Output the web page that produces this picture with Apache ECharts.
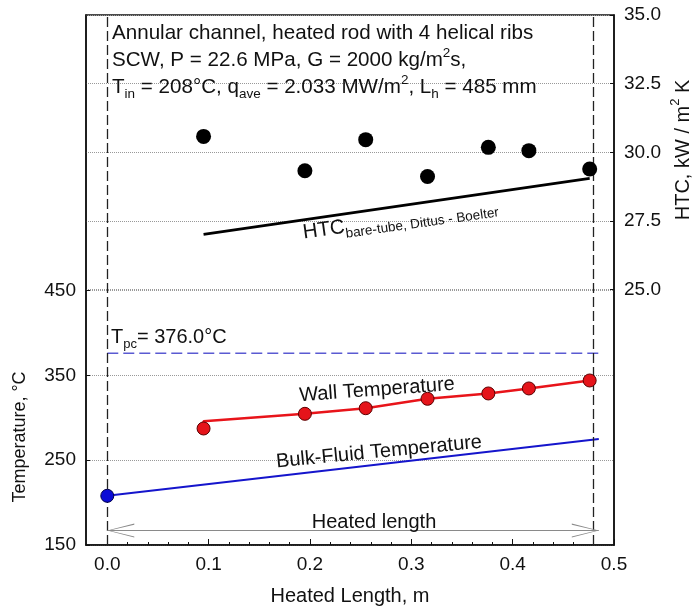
<!DOCTYPE html>
<html><head><meta charset="utf-8">
<script src="https://cdn.jsdelivr.net/npm/echarts@6/dist/echarts.min.js"></script>
<style>html,body{margin:0;padding:0;background:#fff}#c{width:698px;height:610px}</style>
</head><body><div id="c"></div>
<script>
// ---- data ----
const positions = [0.095, 0.195, 0.255, 0.316, 0.376, 0.416, 0.476];
const wallTemp = [287.4, 304.7, 311.3, 322.4, 328.7, 334.6, 344.0];
const wallLineStartTemp = 296;
const htcExp = [30.58, 29.33, 30.46, 29.12, 30.18, 30.06, 29.39];
const htcDBx = [0.095, 0.476];
const htcDB = [27.01, 29.05];
const bulkX = [0, 0.485];
const bulkT = [208, 275];
const inletX = [0];
const inletT = [208];
const tpcValue = 376.0;
const heatedLength = [0, 0.485];
const arrowLevel = 167;
const xTicks = [0, 0.1, 0.2, 0.3, 0.4, 0.5];
const xMinorTicks = [0.02,0.04,0.06,0.08,0.12,0.14,0.16,0.18,0.22,0.24,0.26,0.28,0.32,0.34,0.36,0.38,0.42,0.44,0.46,0.48];
const tempTicks = [150, 250, 350, 450];
const htcTicks = [25, 27.5, 30, 32.5, 35];

// ---- build ----
const FONT = '"Liberation Sans", Arial, sans-serif';
const wallLine = [[positions[0], wallTemp[0]], [positions[0], wallLineStartTemp]]
  .concat(positions.slice(1).map((x, i) => [x, wallTemp[i + 1]]));
// open chevron whose tip sits at the centre of the symbol box
const arrowPath = 'path://M50,0 L50,0 Z M50,50 L100,100 L92,100 L50,54 L8,100 L0,100 Z';

const chart = echarts.init(document.getElementById('c'), null, {renderer: 'canvas'});
const sub = (fs) => ({fontSize: fs, fontFamily: FONT, color: '#111', lineHeight: fs, verticalAlign: 'bottom'});
const sup = (fs) => ({fontSize: fs, fontFamily: FONT, color: '#111', lineHeight: fs, verticalAlign: 'top'});
const main = (fs, lh) => ({fontSize: fs, fontFamily: FONT, color: '#111', lineHeight: lh});

function txt(x, y, text, opts) {
  opts = opts || {};
  return {
    type: 'text', x: x, y: y, rotation: (opts.rot || 0) * Math.PI / 180, silent: true, z: 100,
    style: {
      text: text, fill: '#111', font: (opts.fs || 20) + 'px ' + FONT,
      textAlign: opts.align || 'left', textVerticalAlign: 'middle',
      align: opts.align || 'left', verticalAlign: 'middle',
      rich: opts.rich
    }
  };
}
const richStd = {m: main(20.6, 28), s: sub(13.5), p: sup(13.5)};
const richAxis = {m: main(20, 28), s: sub(13), p: sup(13)};

const option = {
  animation: false,
  backgroundColor: '#fff',
  grid: {left: 86, right: 84, top: 15, bottom: 65, show: true, borderColor: '#111', borderWidth: 1.5, backgroundColor: 'transparent'},
  xAxis: [{
    type: 'value', min: -0.021, max: 0.5,
    axisLine: {show: true, onZero: false, lineStyle: {color: '#111', width: 1.5}},
    axisTick: {show: true, inside: true, length: 6, customValues: xTicks, lineStyle: {color: '#111'}},
    axisLabel: {customValues: xTicks, formatter: v => v.toFixed(1), fontSize: 19, fontFamily: FONT, color: '#111', margin: 10},
    splitLine: {show: false}
  }, {
    type: 'value', min: -0.021, max: 0.5, position: 'bottom',
    axisLine: {show: false, onZero: false},
    axisTick: {show: true, inside: true, length: 3, customValues: xMinorTicks, lineStyle: {color: '#111'}},
    axisLabel: {show: false},
    splitLine: {show: false}
  }],
  yAxis: [{
    type: 'value', min: 150, max: 775, position: 'left',
    axisLine: {show: true, onZero: false, lineStyle: {color: '#111', width: 1.5}},
    axisTick: {show: true, inside: true, length: 4, customValues: tempTicks, lineStyle: {color: '#111'}},
    axisLabel: {customValues: tempTicks, fontSize: 19, fontFamily: FONT, color: '#111', margin: 10},
    splitLine: {show: true, lineStyle: {color: '#999', type: 'dotted', width: 1}}
  }, {
    type: 'value', min: 15.7, max: 35, position: 'right',
    axisLine: {show: true, onZero: false, lineStyle: {color: '#111', width: 1.5}},
    axisTick: {show: true, inside: true, length: 4, customValues: htcTicks, lineStyle: {color: '#111'}},
    axisLabel: {customValues: htcTicks, formatter: v => v.toFixed(1), fontSize: 19, fontFamily: FONT, color: '#111', margin: 10},
    splitLine: {show: true, lineStyle: {color: '#999', type: 'dotted', width: 1}}
  }],
  series: [
    {
      name: 'Tpc', type: 'line', xAxisIndex: 0, yAxisIndex: 0,
      data: heatedLength.map(x => [x, tpcValue]), showSymbol: false, symbol: 'none',
      lineStyle: {color: '#5a5ad2', width: 1.5, type: [11, 5]}, z: 3,
      markLine: {
        silent: true, symbol: 'none', label: {show: false},
        lineStyle: {color: '#222', width: 1.3, type: [10, 4]},
        data: heatedLength.map(x => ({xAxis: x}))
      }
    },
    {
      name: 'Heated length', type: 'line', xAxisIndex: 0, yAxisIndex: 0, data: [],
      markLine: {
        silent: true, symbol: [arrowPath, arrowPath], symbolSize: [14, 54],
        label: {show: false},
        lineStyle: {color: '#8a8a8a', width: 1, type: 'solid'},
        itemStyle: {color: '#8a8a8a'},
        data: [[{coord: [heatedLength[0], arrowLevel]}, {coord: [heatedLength[1], arrowLevel]}]]
      }
    },
    {
      name: 'Bulk-Fluid Temperature', type: 'line', xAxisIndex: 0, yAxisIndex: 0,
      data: bulkX.map((x, i) => [x, bulkT[i]]), showSymbol: false, symbol: 'none',
      lineStyle: {color: '#1515cc', width: 2}, z: 4
    },
    {
      name: 'Inlet', type: 'scatter', xAxisIndex: 0, yAxisIndex: 0,
      data: inletX.map((x, i) => [x, inletT[i]]), symbolSize: 13,
      itemStyle: {color: '#0b0bd6', borderColor: '#00004a', borderWidth: 1, opacity: 1}, z: 6
    },
    {
      name: 'Wall line', type: 'line', xAxisIndex: 0, yAxisIndex: 0,
      data: wallLine, showSymbol: false, symbol: 'none',
      lineStyle: {color: '#e8141a', width: 2.5}, z: 4
    },
    {
      name: 'Wall Temperature', type: 'scatter', xAxisIndex: 0, yAxisIndex: 0,
      data: positions.map((x, i) => [x, wallTemp[i]]), symbolSize: 13,
      itemStyle: {color: '#e5141a', borderColor: '#5a0000', borderWidth: 1, opacity: 1}, z: 6
    },
    {
      name: 'HTC DB', type: 'line', xAxisIndex: 0, yAxisIndex: 1,
      data: htcDBx.map((x, i) => [x, htcDB[i]]), showSymbol: false, symbol: 'none',
      lineStyle: {color: '#000', width: 2.8}, z: 4
    },
    {
      name: 'HTC', type: 'scatter', xAxisIndex: 0, yAxisIndex: 1,
      data: positions.map((x, i) => [x, htcExp[i]]), symbolSize: 15,
      itemStyle: {color: '#000', opacity: 1}, z: 6
    }
  ],
  graphic: [
    txt(112, 33, 'Annular channel, heated rod with 4 helical ribs', {fs: 20.6}),
    txt(112, 60, '{m|SCW, P = 22.6 MPa, G = 2000 kg/m}{p|2}{m|s,}', {rich: richStd}),
    txt(112, 87, '{m|T}{s|in}{m| = 208°C, q}{s|ave}{m| = 2.033 MW/m}{p|2}{m|, L}{s|h}{m| = 485 mm}', {rich: richStd}),
    txt(111, 337, '{m|T}{s|pc}{m|= 376.0°C}', {rich: richAxis}),
    txt(377, 390, 'Wall Temperature', {fs: 20, align: 'center', rot: 4.2}),
    txt(379, 452, 'Bulk-Fluid Temperature', {fs: 20, align: 'center', rot: 5.5}),
    txt(303, 233, '{b|HTC}{s|bare-tube, Dittus - Boelter}', {rot: 8, rich: {b: main(20.5, 28), s: sub(13.5)}}),
    txt(374, 522, 'Heated length', {fs: 20, align: 'center'}),
    txt(350, 596, 'Heated Length, m', {fs: 20, align: 'center'}),
    txt(20, 437, 'Temperature, °C', {fs: 18, align: 'center', rot: 90}),
    txt(683, 150, '{m|HTC, kW / m}{p|2}{m| K}', {align: 'center', rot: 90, rich: richAxis})
  ]
};
chart.setOption(option);
</script>
</body></html>
